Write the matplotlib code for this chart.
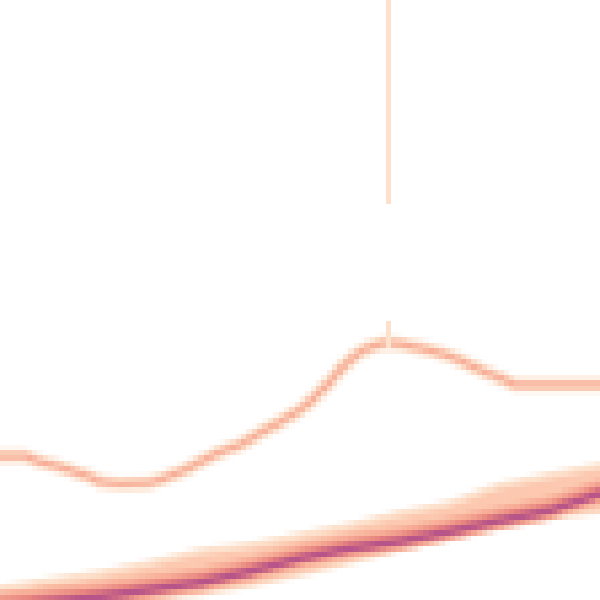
import numpy as np
import matplotlib.pyplot as plt

# upper curve (pixel coords, y grows downward)
curve_x = [0, 25, 40, 60, 75, 90, 100, 120, 150, 160, 170, 185, 200, 220, 240, 260, 280,
           300, 310, 320, 330, 340, 350, 360, 370, 385, 400, 420, 440, 455, 470, 485,
           500, 515, 530, 560, 600]
curve_y = [456, 456, 462, 467, 472, 477, 482, 484, 483, 480, 476, 470, 462, 452, 445, 433, 422,
           410, 402, 392, 382, 370, 360, 352, 347, 343, 344, 348, 353, 358, 365, 372,
           378, 385, 385, 385, 385]

# vertical spike
spike_x = 387
spike_segments = [(0, 200), (319, 341)]

# lower band
band_x = [0, 50, 100, 150, 200, 250, 300, 350, 400, 450, 500, 550, 600]
band_top = [585, 577, 570, 560, 548, 542, 532, 522, 510, 500, 482, 472, 462]
band_bottom = [614, 610, 606, 601, 596, 588, 577, 565, 552, 540, 528, 520, 514]
band_core = [607, 602, 597, 590, 583, 572, 559, 549, 542, 532, 521, 511, 494]

c_light = '#fde1cc'
c_peach = '#fcc9b0'
c_salmon = '#f8ae98'
c_pink = '#e7837e'
c_purple = '#b7548a'


def draw(ax):
    core = np.array(band_core)
    ax.fill_between(band_x, band_top, band_bottom, color=c_light, lw=0)
    ax.fill_between(band_x, np.array(band_top) + 7, np.array(band_bottom) - 4, color=c_peach, lw=0)
    ax.fill_between(band_x, core - 15, core + 9, color=c_salmon, lw=0)
    ax.fill_between(band_x, core - 9, core + 5, color=c_pink, lw=0)
    ax.fill_between(band_x, core - 4, core + 3, color=c_purple, lw=0)

    ax.plot(curve_x, curve_y, color=c_light, lw=10.5, solid_capstyle='butt')
    ax.plot(curve_x, curve_y, color=c_salmon, lw=4.2, solid_capstyle='butt')

    for y0, y1 in spike_segments:
        ax.plot([spike_x, spike_x], [y0, y1], color=c_light, lw=3.5,
                solid_capstyle='butt', antialiased=False)

    ax.set_xlim(0, 600)
    ax.set_ylim(600, 0)
    ax.axis('off')


# coarse render to get the binned look
small = plt.figure(figsize=(6, 6), dpi=112 / 6)
draw(small.add_axes([0, 0, 1, 1]))
small.canvas.draw()
img = np.asarray(small.canvas.buffer_rgba())
plt.close(small)

fig = plt.figure(figsize=(6, 6), dpi=100)
ax = fig.add_axes([0, 0, 1, 1])
ax.imshow(img, interpolation='nearest', aspect='auto')
ax.axis('off')
fig.savefig('out.png', dpi=100)
